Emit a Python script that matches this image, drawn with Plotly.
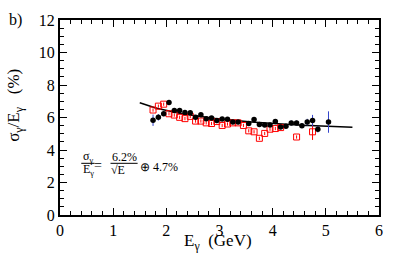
import plotly.graph_objects as go
import numpy as np

# --- data ---
black_x = [1.75, 1.85, 1.95, 2.05, 2.15, 2.25, 2.35, 2.45, 2.55, 2.65, 2.75, 2.85, 2.95,
           3.05, 3.15, 3.25, 3.35, 3.55, 3.65, 3.75, 3.85, 3.95, 4.05, 4.15, 4.25, 4.35,
           4.45, 4.55, 4.65, 4.75, 4.85, 5.05]
black_y = [5.83, 6.01, 6.23, 6.92, 6.43, 6.43, 6.31, 6.29, 6.01, 6.17, 5.93, 5.97, 5.81,
           5.91, 5.89, 5.72, 5.72, 5.63, 5.87, 5.57, 5.54, 5.54, 5.75, 5.42, 5.46, 5.66,
           5.66, 5.50, 5.72, 5.81, 5.28, 5.72]
black_err = [0.35, 0.2, 0.15, 0.12, 0.1, 0.1, 0.1, 0.1, 0.1, 0.1, 0.1, 0.1, 0.1,
             0.1, 0.1, 0.1, 0.1, 0.1, 0.1, 0.1, 0.1, 0.1, 0.1, 0.1, 0.12, 0.15,
             0.15, 0.15, 0.2, 0.35, 0.2, 0.66]

red_x = [1.75, 1.85, 1.95, 2.05, 2.15, 2.25, 2.35, 2.45, 2.55, 2.65, 2.75, 2.85, 2.95,
         3.05, 3.15, 3.25, 3.35, 3.45, 3.55, 3.65, 3.75, 3.85, 3.95, 4.05, 4.15, 4.45, 4.75]
red_y = [6.46, 6.70, 6.82, 6.23, 6.15, 6.01, 5.93, 6.07, 5.78, 5.78, 5.67, 5.63, 5.75,
         5.51, 5.60, 5.67, 5.67, 5.51, 5.18, 5.12, 4.72, 5.02, 5.28, 5.32, 5.38, 4.80, 5.12]
red_err = [0.1] * 26 + [0.5]

# fit: sigma/E = a/sqrt(E) (+) b
fit_a = 6.2
fit_b = 4.7
fit_e = np.linspace(1.5, 5.5, 60)
fit_y = np.sqrt(fit_a**2 / fit_e + fit_b**2)

x_ticks = [0, 1, 2, 3, 4, 5, 6]
y_ticks = [0, 2, 4, 6, 8, 10, 12]

FONT = "Liberation Serif"

fig = go.Figure()
fig.add_trace(go.Scatter(x=fit_e, y=fit_y, mode="lines",
                         line=dict(color="black", width=1.5), hoverinfo="skip"))
fig.add_trace(go.Scatter(x=red_x, y=red_y, mode="markers",
                         marker=dict(symbol="square-open", size=6, color="red",
                                     line=dict(width=1, color="red")),
                         error_y=dict(type="data", array=red_err, color="red",
                                      thickness=1, width=0)))
fig.add_trace(go.Scatter(x=black_x, y=black_y, mode="markers",
                         marker=dict(symbol="circle", size=5.5, color="black"),
                         error_y=dict(type="data", array=black_err, color="#3344cc",
                                      thickness=1, width=0)))

axis_common = dict(showline=True, linewidth=2, linecolor="black", mirror="allticks",
                   ticks="inside", ticklen=7, tickwidth=1, tickcolor="black",
                   showgrid=False, zeroline=False,
                   tickfont=dict(family=FONT, size=16, color="black"))
fig.update_xaxes(range=[0, 6], tickvals=x_ticks,
                 minor=dict(dtick=0.2, ticks="inside", ticklen=4, tickcolor="black"),
                 **axis_common)
fig.update_yaxes(range=[0, 12], tickvals=y_ticks,
                 minor=dict(dtick=0.5, ticks="inside", ticklen=4, tickcolor="black"),
                 **axis_common)

ann = []
ann.append(dict(xref="paper", yref="paper", x=-0.141, y=0.56, textangle=-90,
                xanchor="center", yanchor="middle",
                text="σ<sub>γ</sub>/E<sub>γ</sub>   (%)", showarrow=False,
                font=dict(family=FONT, size=17, color="black")))
ann.append(dict(xref="paper", yref="paper", x=0.496, y=-0.14,
                xanchor="center", yanchor="middle",
                text="E<sub>γ</sub>  (GeV)", showarrow=False,
                font=dict(family=FONT, size=17, color="black")))
ann.append(dict(xref="paper", yref="paper", x=-0.141, y=1.0, xanchor="center", yanchor="middle",
                text="b)", showarrow=False,
                font=dict(family=FONT, size=16, color="black")))
ff = dict(family=FONT, size=12, color="black")
ann.append(dict(x=0.53, y=3.58, text="σ<sub>γ</sub>", showarrow=False, font=ff))
ann.append(dict(x=0.53, y=2.78, text="E<sub>γ</sub>", showarrow=False, font=ff))
ann.append(dict(x=0.72, y=3.05, text="=", showarrow=False,
                font=dict(family=FONT, size=14, color="black")))
ann.append(dict(x=1.21, y=3.56, text="6.2%", showarrow=False, font=ff))
ann.append(dict(x=1.10, y=2.78, text="√E", showarrow=False, font=ff))
ann.append(dict(x=1.47, y=2.96, xanchor="left", text="⊕ 4.7%", showarrow=False, font=ff))

shapes = [
    dict(type="line", x0=0.40, x1=0.65, y0=3.18, y1=3.18, line=dict(color="black", width=1)),
    dict(type="line", x0=0.95, x1=1.46, y0=3.18, y1=3.18, line=dict(color="black", width=1)),
]

fig.update_layout(width=399, height=255, margin=dict(l=60, r=20, t=13, b=40),
                  font=dict(family=FONT, color="black"),
                  plot_bgcolor="white", paper_bgcolor="white", showlegend=False,
                  annotations=ann, shapes=shapes)

fig.write_html("out.html", config={"displayModeBar": False},
               post_script="document.body.style.margin='0';document.body.style.padding='0';")
